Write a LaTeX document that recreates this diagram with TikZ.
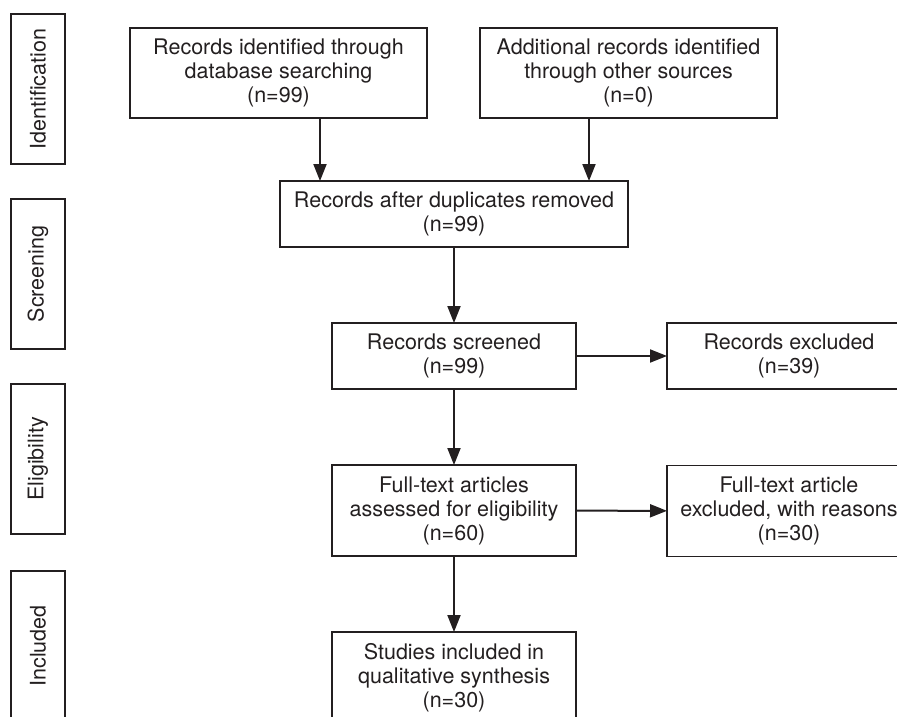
\documentclass[tikz,border=0pt]{standalone}
\usepackage{fontspec}
\setmainfont{TeX Gyre Heros}
\usetikzlibrary{arrows.meta}
\definecolor{ink}{RGB}{35,31,32}

\begin{document}
\begin{tikzpicture}[x=1pt, y=-1pt,
  every node/.style={draw=ink, line width=1.3pt, text=ink, align=center, inner sep=0pt, outer sep=0pt, font=\fontsize{21.5}{24}\selectfont},
  stagebox/.style={rotate=90, minimum width=150pt, minimum height=54pt},
  bigbox/.style={minimum width=297pt, minimum height=90pt},
  flatbox/.style={minimum width=244pt, minimum height=66pt},
  tallbox/.style={minimum width=244pt, minimum height=91pt},
  arr/.style={draw=ink, line width=2pt, -{Triangle[length=17pt,width=13pt]}}]
\useasboundingbox (0,0) rectangle (897,717);
\clip (0,0) rectangle (897,717);

\node[stagebox] (ident) at (38,89) {Identification};
\node[stagebox] (screening) at (38,274) {Screening};
\node[stagebox] (elig) at (38,459) {Eligibility};
\node[stagebox] (included) at (38,646) {Included};

\node[bigbox] (db) at (278.5,73) {Records identified through\\database searching\\(n=99)};
\node[bigbox] (other) at (628.5,73) {Additional records identified\\through other sources\\(n=0)};
\node[minimum width=348pt, minimum height=66pt] (dup) at (454,214) {Records after duplicates removed\\(n=99)};
\node[flatbox] (screened) at (454,356) {Records screened\\(n=99)};
\node[flatbox] (excl) at (789,356) {Records excluded\\(n=39)};
\node[tallbox] (full) at (454,510.5) {Full-text articles\\assessed for eligibility\\(n=60)};
\node[tallbox] (fullexcl) at (789,511) {Full-text article\\excluded, with reasons\\(n=30)};
\node[tallbox] (synth) at (454,677.5) {Studies included in\\qualitative synthesis\\(n=30)};

\draw[arr] ([xshift=-134pt]dup.north |- db.south) -- ([xshift=-134pt]dup.north);
\draw[arr] ([xshift=135pt]dup.north |- other.south) -- ([xshift=135pt]dup.north);
\draw[arr] (dup) -- (screened);
\draw[arr] (screened) -- (full);
\draw[arr] (full) -- (synth);
\draw[arr] (screened) -- (excl);
\draw[arr] (full) -- (fullexcl);
\end{tikzpicture}
\end{document}
